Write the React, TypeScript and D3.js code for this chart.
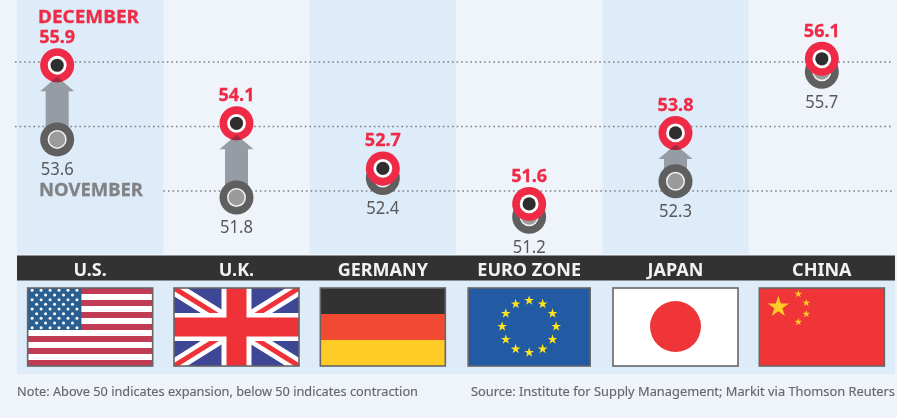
import React from "react";
import * as d3 from "d3";

const categories = ["U.S.", "U.K.", "GERMANY", "EURO ZONE", "JAPAN", "CHINA"];
const novemberValues = [53.6, 51.8, 52.4, 51.2, 52.3, 55.7];
const decemberValues = [55.9, 54.1, 52.7, 51.6, 53.8, 56.1];
const gridValues = [56, 54, 52];
const noteText = "Note: Above 50 indicates expansion, below 50 indicates contraction";
const sourceText = "Source: Institute for Supply Management; Markit via Thomson Reuters";

const W = 897, H = 418;
const BG = "#eff4fb", BLUE = "#ddecf8", RED = "#ee2c47", INK = "#333333";
const FONT = "'Noto Sans', sans-serif";

const x = d3.scaleBand<string>().domain(categories).range([17, 895]);
const y = d3.scaleLinear().domain([52, 56]).range([191, 62]);

const star = (size: number) => d3.symbol().type(d3.symbolStar).size(size)()!;

function Flag({ name, cx, top, h }: { name: string; cx: number; top: number; h: number }) {
  const w = name === "EURO ZONE" ? 122 : 125;
  const left = cx - w / 2;
  const id = "f" + name.replace(/\W/g, "");
  let body: React.ReactNode = null;
  if (name === "U.S.") {
    const sy = d3.scaleBand<number>().domain(d3.range(13)).range([0, h]);
    const cw = w * 0.43, ch = sy.bandwidth() * 7;
    const stars: React.ReactNode[] = [];
    for (let r = 0; r < 9; r++) {
      const n = r % 2 ? 5 : 6;
      for (let c = 0; c < n; c++) {
        stars.push(<circle key={`${r}-${c}`} cx={((c + (r % 2 ? 1 : 0.5)) * cw) / 6} cy={((r + 0.5) * ch) / 9} r={1.5} fill="#fff" />);
      }
    }
    body = (
      <g>
        <rect width={w} height={h} fill="#fff" />
        {sy.domain().filter((i) => i % 2 === 0).map((i) => (
          <rect key={i} y={sy(i)} width={w} height={sy.bandwidth()} fill="#c23a55" />
        ))}
        <rect width={cw} height={ch} fill="#2c5f92" />
        {stars}
      </g>
    );
  } else if (name === "U.K.") {
    body = (
      <g>
        <rect width={w} height={h} fill="#3c4696" />
        <path d={`M0 0L${w} ${h}M${w} 0L0 ${h}`} stroke="#fff" strokeWidth={14} />
        <path d={`M0 0L${w} ${h}M${w} 0L0 ${h}`} stroke="#ee3338" strokeWidth={5} />
        <rect x={w / 2 - 15} width={30} height={h} fill="#fff" />
        <rect y={h / 2 - 14} width={w} height={28} fill="#fff" />
        <rect x={w / 2 - 10} width={20} height={h} fill="#ee3338" />
        <rect y={h / 2 - 9.5} width={w} height={19} fill="#ee3338" />
      </g>
    );
  } else if (name === "GERMANY") {
    body = (
      <g>
        <rect width={w} height={h / 3} fill="#333333" />
        <rect y={h / 3} width={w} height={h / 3} fill="#f24a32" />
        <rect y={(2 * h) / 3} width={w} height={h / 3} fill="#ffcb25" />
      </g>
    );
  } else if (name === "EURO ZONE") {
    body = (
      <g>
        <rect width={w} height={h} fill="#225aa3" />
        {d3.range(12).map((i) => {
          const a = (i * Math.PI) / 6;
          return <path key={i} d={star(30)} fill="#ffe51a" transform={`translate(${w / 2 + 27 * Math.sin(a)},${h / 2 - 0.5 - 26 * Math.cos(a)})`} />;
        })}
      </g>
    );
  } else if (name === "JAPAN") {
    body = (
      <g>
        <rect width={w} height={h} fill="#fff" />
        <circle cx={w / 2} cy={h / 2 - 0.5} r={25.5} fill="#ef3539" />
      </g>
    );
  } else {
    const small: [number, number][] = [[39, 6], [47, 15], [47, 26], [39, 34]];
    body = (
      <g>
        <rect width={w} height={h} fill="#ef3539" />
        <path d={star(140)} fill="#ffcb25" transform={`translate(19,19)`} />
        {small.map(([a, b], i) => (
          <path key={i} d={star(18)} fill="#ffcb25" transform={`translate(${a},${b})`} />
        ))}
      </g>
    );
  }
  return (
    <g transform={`translate(${left},${top})`}>
      <clipPath id={id}><rect width={w} height={h} /></clipPath>
      <g clipPath={`url(#${id})`}>{body}</g>
      <rect width={w} height={h} fill="none" stroke="#666" strokeWidth={1.6} />
    </g>
  );
}

export default function App() {
  const bw = x.bandwidth();
  const centre = (c: string) => x(c)! + bw / 2;
  const markX = (c: string, i: number) => (i === 0 ? centre(c) - 33 : centre(c));
  const R = 17;
  const arrow = (cx: number, dec: number, nov: number) => {
    const tip = y(dec) + 11.5, base = tip + 14.5, end = y(nov);
    return `M${cx} ${tip}L${cx + 17} ${base}H${cx + 11.5}V${end}H${cx - 11.5}V${base}H${cx - 17}Z`;
  };
  return (
    <svg width={W} height={H} viewBox={`0 0 ${W} ${H}`} style={{ position: "absolute", left: 0, top: 0 }} fontFamily={FONT}>
      <defs>
        <filter id="soft" x="0" y="0" width="100%" height="100%"><feGaussianBlur stdDeviation="0.55" /></filter>
      </defs>
      <g filter="url(#soft)">
        <rect width={W} height={H} fill={BG} />
        {categories.map((c, i) => i % 2 === 0 && <rect key={c} x={x(c)} y={0} width={bw} height={254} fill={BLUE} />)}
        {gridValues.map((g, i) => (
          <line key={g} x1={i === 2 ? x(categories[1])! : 15} x2={893} y1={y(g)} y2={y(g)} stroke="#7f8082" strokeWidth={1.4} strokeDasharray="1.6 3" />
        ))}
        {categories.map((c, i) => {
          const cx = markX(c, i), d = decemberValues[i], n = novemberValues[i];
          const showArrow = d - n > 1;
          return (
            <g key={c}>
              {showArrow && <path d={arrow(cx, d, n)} fill="#959ca4" />}
              <circle cx={cx} cy={y(n)} r={R} fill="#5f5f61" />
              <circle cx={cx} cy={y(n)} r={9.5} fill="#f2f2f2" />
              <circle cx={cx} cy={y(n)} r={8} fill="#9a9b9d" />
              <circle cx={cx} cy={y(d)} r={R} fill={RED} />
              {showArrow && (
                <g>
                  <clipPath id={`ov${i}`}><circle cx={cx} cy={y(d)} r={R} /></clipPath>
                  <path d={arrow(cx, d, n)} fill="#a22b3f" clipPath={`url(#ov${i})`} />
                </g>
              )}
              <circle cx={cx} cy={y(d)} r={9.4} fill="#fff" />
              <circle cx={cx} cy={y(d)} r={6.6} fill="#2e2e2e" />
              <text x={cx} y={y(d) - 22} textAnchor="middle" fontSize={18.5} fontWeight={700} fill={RED} stroke={RED} strokeWidth={0.3} textLength={36} lengthAdjust="spacingAndGlyphs">{d.toFixed(1)}</text>
              <text x={cx} y={y(n) + 36} textAnchor="middle" fontSize={18.5} fill="#58585a" textLength={33} lengthAdjust="spacingAndGlyphs">{n.toFixed(1)}</text>
            </g>
          );
        })}
        <text x={38} y={23} fontSize={18.5} fontWeight={700} fill={RED} stroke={RED} strokeWidth={0.3} textLength={101} lengthAdjust="spacingAndGlyphs">DECEMBER</text>
        <text x={39} y={196} fontSize={18.5} fontWeight={700} fill="#808285" stroke="#808285" strokeWidth={0.3} textLength={104} lengthAdjust="spacingAndGlyphs">NOVEMBER</text>
        <rect x={17} y={280} width={878} height={94} fill={BLUE} />
        <rect x={17} y={255.5} width={878} height={25} fill={INK} />
        {categories.map((c) => (
          <text key={c} x={centre(c)} y={276} textAnchor="middle" fontSize={18} fontWeight={700} fill="#f2f2f2">{c}</text>
        ))}
        {categories.map((c) => <Flag key={c} name={c} cx={centre(c)} top={288} h={78} />)}
        <text x={17} y={396} fontSize={12.5} fill="#66676a" stroke="#66676a" strokeWidth={0.15} textLength={401} lengthAdjust="spacingAndGlyphs">{noteText}</text>
        <text x={471} y={396} fontSize={12.5} fill="#66676a" stroke="#66676a" strokeWidth={0.15} textLength={424} lengthAdjust="spacingAndGlyphs">{sourceText}</text>
      </g>
    </svg>
  );
}
